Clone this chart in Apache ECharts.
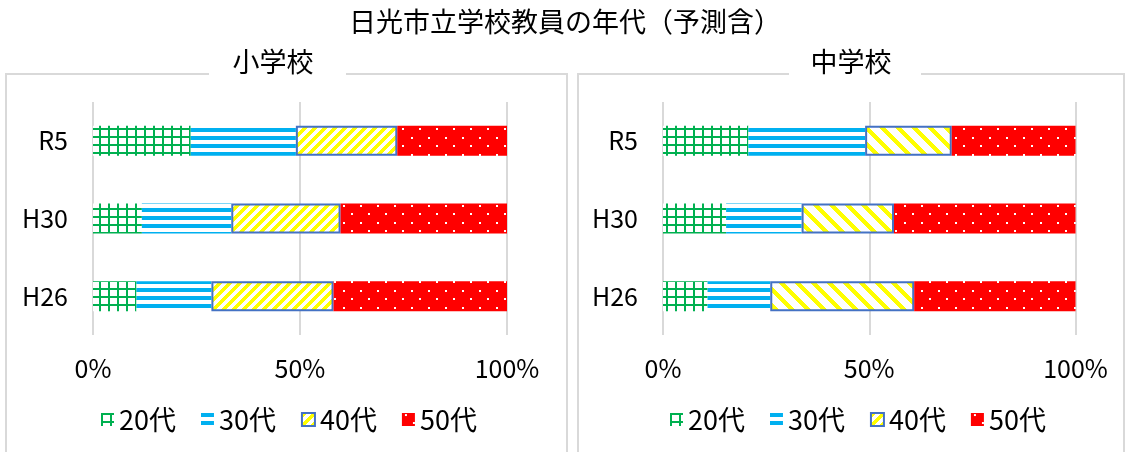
<!DOCTYPE html>
<html>
<head>
<meta charset="utf-8">
<script src="https://cdn.jsdelivr.net/npm/echarts@6/dist/echarts.min.js"></script>
<style>
html,body{margin:0;padding:0;background:#fff;}
#chart{width:1130px;height:452px;}
</style>
</head>
<body>
<div id="chart"></div>
<script>
// ---- data ----
const categories = ['R5', 'H30', 'H26'];
const seriesNames = ['20代', '30代', '40代', '50代'];
const elem20 = [23.6, 11.8, 10.5];
const elem30 = [25.4, 21.6, 18.1];
const elem40 = [24.5, 26.4, 29.5];
const elem50 = [26.5, 40.2, 41.9];
const mid20 = [20.7, 15.3, 10.8];
const mid30 = [28.3, 18.3, 15.2];
const mid40 = [21.0, 22.4, 34.9];
const mid50 = [30.0, 44.0, 39.1];
const mainTitle = '日光市立学校教員の年代（予測含）';
const panelTitles = ['小学校', '中学校'];
const xTicks = [0, 50, 100];

// ---- patterns ----
function makePattern(w, h, draw) {
  const c = document.createElement('canvas');
  c.width = w; c.height = h;
  const ctx = c.getContext('2d');
  draw(ctx, w, h);
  return { image: c, repeat: 'repeat' };
}
const greenGrid = makePattern(9, 8, (ctx, w, h) => {
  ctx.fillStyle = '#fff'; ctx.fillRect(0, 0, w, h);
  ctx.fillStyle = '#00B050';
  ctx.fillRect(0, 0, 2, h);
  ctx.fillRect(0, 0, w, 2);
});
const blueStripe = makePattern(8, 8, (ctx, w, h) => {
  ctx.fillStyle = '#fff'; ctx.fillRect(0, 0, w, h);
  ctx.fillStyle = '#00B0F0';
  ctx.fillRect(0, 0, w, 4);
});
function diag(P, width, up) {
  return makePattern(P, P, (ctx, w, h) => {
    ctx.fillStyle = '#fff'; ctx.fillRect(0, 0, w, h);
    ctx.fillStyle = '#FFFF00';
    for (let x = 0; x < P; x++) {
      for (let y = 0; y < P; y++) {
        const v = up ? (x + y) % P : ((x - y) % P + P) % P;
        if (v < width) ctx.fillRect(x, y, 1, 1);
      }
    }
  });
}
const yellowUp = diag(10, 5, true);
const yellowDown = diag(16, 6, false);
const redDots = makePattern(17, 17, (ctx, w, h) => {
  ctx.fillStyle = '#FF0000'; ctx.fillRect(0, 0, w, h);
  ctx.fillStyle = '#fff';
  ctx.fillRect(3, 1, 2, 2);
  ctx.fillRect(11, 9, 2, 2);
});

const FONT = "'Noto Sans CJK JP', sans-serif";

function makeSeries(idx, data, fills) {
  const arr = [];
  data.forEach((d, i) => {
    const s = {
      name: seriesNames[i],
      type: 'bar',
      stack: 'p' + idx,
      xAxisIndex: idx,
      yAxisIndex: idx,
      barWidth: 30,
      data: d,
      itemStyle: { color: fills[i] }
    };
    if (i === 2) {
      s.itemStyle.borderColor = '#4472C4';
      s.itemStyle.borderWidth = 2;
    }
    arr.push(s);
  });
  return arr;
}

const grids = [
  { left: 93, right: 1130 - 507, top: 102, bottom: 452 - 335 },
  { left: 663, right: 1130 - 1075.5, top: 102, bottom: 452 - 335 }
];

function xAxisFor(i) {
  return {
    gridIndex: i, type: 'value', min: xTicks[0], max: xTicks[xTicks.length - 1], interval: xTicks[1] - xTicks[0],
    axisLine: { show: false }, axisTick: { show: false },
    splitLine: { show: true, lineStyle: { color: '#D9D9D9', width: 2 } },
    axisLabel: { formatter: '{value}%', fontSize: 25, color: '#000', fontFamily: FONT, margin: 21 }
  };
}
function yAxisFor(i) {
  return {
    gridIndex: i, type: 'category', inverse: true, data: categories,
    axisLine: { show: false }, axisTick: { show: false },
    axisLabel: { fontSize: 25, color: '#000', fontFamily: FONT, margin: 25 }
  };
}

const legendBase = {
  data: seriesNames, top: 406, icon: 'rect', itemWidth: 13, itemHeight: 13, itemGap: 25,
  textStyle: { fontSize: 27, color: '#000', fontFamily: FONT }, padding: 0, selectedMode: false
};

const option = {
  animation: false,
  backgroundColor: '#fff',
  title: [
    { text: mainTitle, left: 'center', top: 8, padding: 0,
      textStyle: { fontSize: 27, fontWeight: 'normal', color: '#000', fontFamily: FONT } },
    { text: panelTitles[0], left: 273, top: 48, padding: 0, textAlign: 'center',
      textStyle: { fontSize: 27, fontWeight: 'normal', color: '#000', fontFamily: FONT } },
    { text: panelTitles[1], left: 851, top: 48, padding: 0, textAlign: 'center',
      textStyle: { fontSize: 27, fontWeight: 'normal', color: '#000', fontFamily: FONT } }
  ],
  graphic: [
    { type: 'polyline', shape: { points: [[209, 74], [6, 74], [6, 470]] }, style: { stroke: '#D9D9D9', lineWidth: 2, fill: null } },
    { type: 'polyline', shape: { points: [[346, 74], [567, 74], [567, 470]] }, style: { stroke: '#D9D9D9', lineWidth: 2, fill: null } },
    { type: 'polyline', shape: { points: [[789, 74], [578, 74], [578, 470]] }, style: { stroke: '#D9D9D9', lineWidth: 2, fill: null } },
    { type: 'polyline', shape: { points: [[921, 74], [1124, 74], [1124, 470]] }, style: { stroke: '#D9D9D9', lineWidth: 2, fill: null } }
  ],
  legend: [
    Object.assign({}, legendBase, { left: 101 }),
    Object.assign({}, legendBase, { left: 670 })
  ],
  grid: grids,
  xAxis: [xAxisFor(0), xAxisFor(1)],
  yAxis: [yAxisFor(0), yAxisFor(1)],
  series: [].concat(
    makeSeries(0, [elem20, elem30, elem40, elem50], [greenGrid, blueStripe, yellowUp, redDots]),
    makeSeries(1, [mid20, mid30, mid40, mid50], [greenGrid, blueStripe, yellowDown, redDots])
  )
};

const chart = echarts.init(document.getElementById('chart'), null, { renderer: 'canvas' });
chart.setOption(option);
</script>
</body>
</html>
